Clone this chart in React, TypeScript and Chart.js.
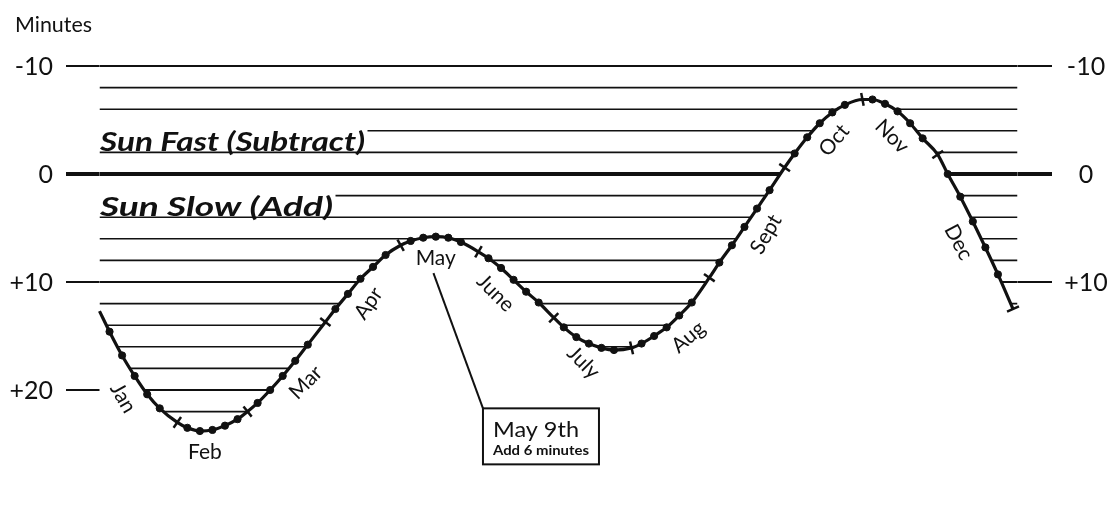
import React, { useEffect, useRef } from "react";
import { Chart, registerables } from "chart.js";

Chart.register(...registerables);

// ---- data ----
const monthNames = ["Jan", "Feb", "Mar", "Apr", "May", "June", "July", "Aug", "Sept", "Oct", "Nov", "Dec"];
const monthLengths = [31, 28, 31, 30, 31, 30, 31, 31, 30, 31, 30, 31];
const markDaysOfMonth = [1, 5, 10, 15, 20, 25];
// minutes (+ = sun slow, add; − = sun fast, subtract) on each marked day
const janMinutes = [12.7, 14.6, 16.8, 18.7, 20.4, 21.7];
const febMinutes = [23.0, 23.5, 23.8, 23.7, 23.3, 22.7];
const marMinutes = [22.0, 21.2, 20.0, 18.7, 17.3, 15.8];
const aprMinutes = [13.7, 12.5, 11.1, 9.7, 8.6, 7.5];
const mayMinutes = [6.6, 6.2, 5.9, 5.8, 5.9, 6.3];
const junMinutes = [7.2, 7.8, 8.7, 9.8, 10.9, 11.9];
const julMinutes = [13.3, 14.2, 15.1, 15.7, 16.1, 16.3];
const augMinutes = [16.1, 15.7, 15.0, 14.2, 13.1, 11.9];
const sepMinutes = [9.6, 8.2, 6.6, 4.9, 3.2, 1.5];
const octMinutes = [-0.6, -1.9, -3.4, -4.7, -5.7, -6.4];
const novMinutes = [-6.9, -6.9, -6.5, -5.8, -4.7, -3.3];
const decMinutes = [-1.8, 0.0, 2.1, 4.4, 6.8, 9.3];
const dec31Minutes = 12.5;
const monthlyMinutes = [janMinutes, febMinutes, marMinutes, aprMinutes, mayMinutes, junMinutes,
  julMinutes, augMinutes, sepMinutes, octMinutes, novMinutes, decMinutes];

const leftTickValues = [-10, 0, 10, 20];
const rightTickValues = [-10, 0, 10];
const hatchValues = [-10, -8, -6, -4, -2, 0, 2, 4, 6, 8, 10, 12, 14, 16, 18, 20, 22];

// month label anchor (day of year, 0 = Jan 1) and text angle in degrees
const monthLabelDays = [17, 42, 76, 100, 134, 164, 199, 229, 258, 286, 322, 350];
const monthLabelAngles = [60, 0, -45, -55, 0, 45, 45, -40, -60, -50, 45, 62];

const calloutDay = 128; // May 9th
const calloutTitle = "May 9th";
const calloutText = "Add 6 minutes";
const fastText = "Sun Fast (Subtract)";
const slowText = "Sun Slow (Add)";
const yAxisTitle = "Minutes";

// ---- build points ----
const cumDays: number[] = [];
monthLengths.forEach((len, i) => cumDays.push(i === 0 ? 0 : cumDays[i - 1] + monthLengths[i - 1]));
type P = { x: number; y: number; dom: number };
const points: P[] = [];
monthlyMinutes.forEach((vals, m) =>
  vals.forEach((v, k) => points.push({ x: cumDays[m] + markDaysOfMonth[k] - 1, y: v, dom: markDaysOfMonth[k] }))
);
points.push({ x: 364, y: dec31Minutes, dom: 31 });

const INK = "#111";
const FONT = "Lato, 'Noto Sans', sans-serif";

function valueAtDay(d: number) {
  for (let i = 1; i < points.length; i++) {
    const a = points[i - 1], b = points[i];
    if (d <= b.x) {
      const t = (d - a.x) / (b.x - a.x);
      return a.y + t * (b.y - a.y);
    }
  }
  return points[points.length - 1].y;
}

function fillFitted(ctx: CanvasRenderingContext2D, text: string, x: number, y: number, width: number) {
  const w = ctx.measureText(text).width;
  const s = width / w;
  ctx.save();
  ctx.translate(x, y);
  ctx.scale(s, 1);
  ctx.textAlign = "left";
  ctx.fillText(text, 0, 0);
  ctx.restore();
}

const fmt = (v: number) => (v > 0 ? "+" + v : String(v));

const eotPlugin = {
  id: "eot",
  beforeDatasetsDraw(chart: any) {
    const { ctx, chartArea, scales } = chart;
    const ys = scales.y;
    const pts = chart.getDatasetMeta(0).data as any[];
    const left = chartArea.left;
    const right = chartArea.right + 4.5;
    ctx.save();
    ctx.strokeStyle = INK;
    // clip: region above the curve
    ctx.save();
    ctx.beginPath();
    ctx.moveTo(pts[0].x, 0);
    ctx.lineTo(pts[0].x, pts[0].y);
    for (let i = 1; i < pts.length; i++) {
      const p = pts[i - 1], c = pts[i];
      ctx.bezierCurveTo(p.cp2x ?? p.x, p.cp2y ?? p.y, c.cp1x ?? c.x, c.cp1y ?? c.y, c.x, c.y);
    }
    const last = pts[pts.length - 1];
    ctx.lineTo(right, last.y);
    ctx.lineTo(right, 0);
    ctx.closePath();
    ctx.clip();
    for (const v of hatchValues) {
      const y = ys.getPixelForValue(v);
      ctx.lineWidth = v === 0 ? 4 : leftTickValues.includes(v) ? 2.2 : 1.6;
      ctx.beginPath();
      ctx.moveTo(left, y);
      ctx.lineTo(right, y);
      ctx.stroke();
    }
    ctx.restore();

    // axis extensions & labels
    ctx.fillStyle = INK;
    ctx.font = `25px ${FONT}`;
    for (const v of leftTickValues) {
      const y = ys.getPixelForValue(v);
      ctx.lineWidth = v === 0 ? 4 : 2.2;
      ctx.beginPath();
      ctx.moveTo(58, y);
      ctx.lineTo(left, y);
      ctx.stroke();
      ctx.textAlign = "right";
      ctx.textBaseline = "alphabetic";
      ctx.fillText(fmt(v), 45, y + 9);
    }
    for (const v of rightTickValues) {
      const y = ys.getPixelForValue(v);
      ctx.lineWidth = v === 0 ? 4 : 2.2;
      ctx.beginPath();
      ctx.moveTo(right, y);
      ctx.lineTo(1044, y);
      ctx.stroke();
      ctx.textAlign = "center";
      ctx.textBaseline = "alphabetic";
      ctx.fillText(fmt(v), 1078, y + 9);
    }

    // Sun Fast / Sun Slow captions
    ctx.font = `italic bold 26px ${FONT}`;
    ctx.textBaseline = "alphabetic";
    const captions: [string, number, number][] = [[fastText, -2, 265], [slowText, 4, 233]];
    for (const [txt, v, w] of captions) {
      const y = ys.getPixelForValue(v);
      ctx.fillStyle = "#fff";
      ctx.fillRect(left - 1, y - 25, w + 4, 23);
      ctx.fillStyle = INK;
      fillFitted(ctx, txt, left + 0.5, y - 1.5, w);
    }
    ctx.restore();
  },
  afterDatasetsDraw(chart: any) {
    const { ctx, scales } = chart;
    const xs = scales.x, ys = scales.y;
    ctx.save();
    ctx.fillStyle = INK;
    ctx.strokeStyle = INK;

    // month labels
    ctx.font = `21px ${FONT}`;
    ctx.textAlign = "center";
    ctx.textBaseline = "middle";
    monthNames.forEach((name, i) => {
      const d = monthLabelDays[i];
      const px = xs.getPixelForValue(d);
      const py = ys.getPixelForValue(valueAtDay(d));
      const a = (monthLabelAngles[i] * Math.PI) / 180;
      const off = 22;
      const cx = px - Math.sin(a) * off;
      const cy = py + Math.cos(a) * off;
      ctx.save();
      ctx.translate(cx, cy);
      ctx.rotate(a);
      ctx.fillText(name, 0, 0);
      ctx.restore();
    });

    // callout
    const p0x = xs.getPixelForValue(calloutDay);
    const p0y = ys.getPixelForValue(valueAtDay(calloutDay));
    const bx = xs.getPixelForValue(152.8);
    const by = ys.getPixelForValue(21.7);
    const dx = bx - p0x, dy = by - p0y;
    const len = Math.hypot(dx, dy);
    ctx.lineWidth = 2;
    ctx.beginPath();
    ctx.moveTo(p0x + (dx / len) * 37, p0y + (dy / len) * 37);
    ctx.lineTo(bx, by);
    ctx.stroke();
    ctx.strokeRect(bx, by, 116, 56);
    ctx.textBaseline = "alphabetic";
    ctx.font = `21px ${FONT}`;
    fillFitted(ctx, calloutTitle, bx + 10, by + 29, 86);
    ctx.font = `bold 12.5px ${FONT}`;
    fillFitted(ctx, calloutText, bx + 10, by + 47, 96);

    // y axis title
    ctx.font = `21px ${FONT}`;
    fillFitted(ctx, yAxisTitle, 7, 24, 77);
    ctx.restore();
  },
};

function tangentRotation(ctx: any) {
  const chart = ctx.chart;
  const i = ctx.dataIndex;
  const xs = chart.scales?.x, ys = chart.scales?.y;
  if (!xs || !ys) return 0;
  const a = points[Math.max(0, i - 1)], b = points[Math.min(points.length - 1, i + 1)];
  const dx = xs.getPixelForValue(b.x) - xs.getPixelForValue(a.x);
  const dy = ys.getPixelForValue(b.y) - ys.getPixelForValue(a.y);
  return (Math.atan2(dy, dx) * 180) / Math.PI + 90;
}

export default function App() {
  const ref = useRef<HTMLCanvasElement>(null);
  useEffect(() => {
    if (!ref.current) return;
    const chart = new Chart(ref.current, {
      type: "line",
      data: {
        datasets: [
          {
            data: points,
            parsing: { xAxisKey: "x", yAxisKey: "y" },
            borderColor: INK,
            borderWidth: 3.2,
            cubicInterpolationMode: "monotone",
            fill: false,
            clip: false,
            pointStyle: (c: any) => {
              const p = points[c.dataIndex];
              return p && (p.dom === 1 || p.dom === 31) ? "line" : "circle";
            },
            pointRadius: (c: any) => {
              const p = points[c.dataIndex];
              if (!p || c.dataIndex === 0) return 0;
              return p.dom === 1 || p.dom === 31 ? 6.5 : 3.6;
            },
            pointRotation: tangentRotation,
            pointBackgroundColor: INK,
            pointBorderColor: INK,
            pointBorderWidth: (c: any) => {
              const p = points[c.dataIndex];
              return p && (p.dom === 1 || p.dom === 31) ? 2.5 : 1;
            },
          } as any,
        ],
      },
      options: {
        animation: false,
        responsive: true,
        maintainAspectRatio: false,
        events: [],
        layout: { padding: { left: 91.5, right: 97, top: 14.8, bottom: 20.6 } },
        plugins: { legend: { display: false }, tooltip: { enabled: false }, title: { display: false } },
        scales: {
          x: { type: "linear", min: 0, max: 364, display: false },
          y: { type: "linear", min: -14, max: 28, reverse: true, display: false },
        },
      },
      plugins: [eotPlugin],
    });
    return () => chart.destroy();
  }, []);
  return (
    <div style={{ width: 1102, height: 489, position: "relative", background: "#fff" }}>
      <canvas ref={ref} />
    </div>
  );
}
